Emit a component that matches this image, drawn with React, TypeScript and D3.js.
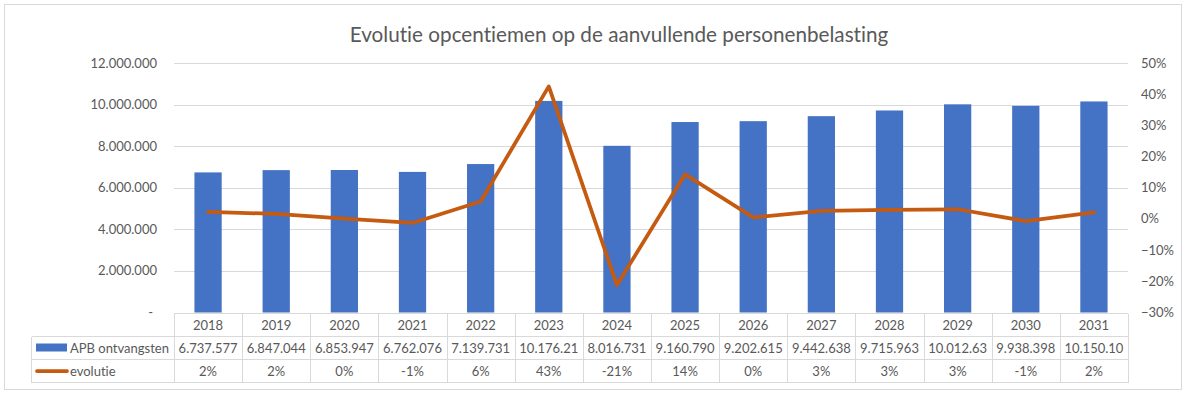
import React, { Component } from 'react'
import * as d3 from 'd3'

const years = ['2018', '2019', '2020', '2021', '2022', '2023', '2024', '2025', '2026', '2027', '2028', '2029', '2030', '2031']
const apbOntvangsten = [6737577, 6847044, 6853947, 6762076, 7139731, 10176210, 8016731, 9160790, 9202615, 9442638, 9715963, 10012630, 9938398, 10150100]
const apbLabels = ['6.737.577', '6.847.044', '6.853.947', '6.762.076', '7.139.731', '10.176.21', '8.016.731', '9.160.790', '9.202.615', '9.442.638', '9.715.963', '10.012.63', '9.938.398', '10.150.10']
const evolutie = [0.023, 0.016, 0.001, -0.013, 0.056, 0.425, -0.212, 0.143, 0.005, 0.026, 0.029, 0.031, -0.007, 0.021]
const evolutieLabels = ['2%', '2%', '0%', '-1%', '6%', '43%', '-21%', '14%', '0%', '3%', '3%', '3%', '-1%', '2%']
const leftTicks = [0, 2000000, 4000000, 6000000, 8000000, 10000000, 12000000]
const rightTicks = [-0.3, -0.2, -0.1, 0, 0.1, 0.2, 0.3, 0.4, 0.5]

const title = 'Evolutie opcentiemen op de aanvullende personenbelasting'
const seriesNames = ['APB ontvangsten', 'evolutie']

export default class App extends Component {
  node: SVGSVGElement | null = null

  componentDidMount() {
    this.drawChart()
  }
  componentDidUpdate() {
    this.drawChart()
  }

  drawChart() {
    const width = 1187, height = 395
    const left = 174, right = 1128, top = 63, bottom = 312.5
    const rowH = 23
    const font = 'Lato, "Open Sans", sans-serif'
    const textColor = '#595959'
    const gridColor = '#D9D9D9'
    const barColor = '#4472C4'
    const lineColor = '#C55A11'

    const svg = d3.select(this.node)
    svg.selectAll('*').remove()
    svg.attr('width', width).attr('height', height)
      .style('font-variant-ligatures', 'none')

    svg.append('rect')
      .attr('width', width).attr('height', height).attr('fill', '#fff')
    svg.append('rect')
      .attr('x', 4.5).attr('y', 4.5).attr('width', 1177).attr('height', 385)
      .attr('fill', 'none').attr('stroke', gridColor)

    // title
    svg.append('text')
      .attr('x', 619).attr('y', 42)
      .attr('text-anchor', 'middle')
      .attr('font-family', font).attr('font-size', 20.7)
      .attr('fill', textColor)
      .text(title)

    const cell = d3.scaleBand().domain(years).range([left, right])
    const yLeft = d3.scaleLinear().domain([0, 12000000]).range([bottom, top])
    const yRight = d3.scaleLinear().domain([-0.3, 0.5]).range([bottom, top])

    const nl = d3.formatLocale({ decimal: ',', thousands: '.', grouping: [3], currency: ['€', ''] })
    const fmtLeft = (d: number) => d === 0 ? '-' : nl.format(',')(d)
    const fmtRight = nl.format('.0%')

    // gridlines
    svg.append('g')
      .selectAll('line')
      .data(leftTicks.filter(d => d > 0))
      .enter().append('line')
      .attr('x1', left).attr('x2', right)
      .attr('y1', d => Math.round(yLeft(d)) + 0.5).attr('y2', d => Math.round(yLeft(d)) + 0.5)
      .attr('stroke', gridColor)

    // left axis labels
    svg.append('g')
      .selectAll('text')
      .data(leftTicks)
      .enter().append('text')
      .attr('x', d => d === 0 ? 153 : 157)
      .attr('y', d => yLeft(d))
      .attr('dy', '0.35em')
      .attr('text-anchor', 'end')
      .attr('font-family', font).attr('font-size', 13)
      .attr('fill', textColor)
      .text(fmtLeft)

    // right axis labels
    svg.append('g')
      .selectAll('text')
      .data(rightTicks)
      .enter().append('text')
      .attr('x', 1141)
      .attr('y', d => yRight(d))
      .attr('dy', '0.35em')
      .attr('font-family', font).attr('font-size', 13)
      .attr('fill', textColor)
      .text(fmtRight)

    // bars
    const bw = cell.bandwidth() * 0.4
    svg.append('g')
      .selectAll('rect')
      .data(apbOntvangsten)
      .enter().append('rect')
      .attr('x', (d, i) => cell(years[i])! + (cell.bandwidth() - bw) / 2)
      .attr('y', d => yLeft(d))
      .attr('width', bw)
      .attr('height', d => bottom - yLeft(d))
      .attr('fill', barColor)

    // line
    const line = d3.line<number>()
      .x((d, i) => cell(years[i])! + cell.bandwidth() / 2)
      .y(d => yRight(d))
    svg.append('path')
      .datum(evolutie)
      .attr('d', line)
      .attr('fill', 'none')
      .attr('stroke', lineColor)
      .attr('stroke-width', 3.75)
      .attr('stroke-linejoin', 'round')
      .attr('stroke-linecap', 'round')

    // data table
    const table = svg.append('g').attr('stroke', gridColor).attr('shape-rendering', 'crispEdges')
    const legendLeft = 31.5
    const y0 = Math.round(bottom) + 0.5
    table.append('line').attr('x1', left).attr('x2', right).attr('y1', y0).attr('y2', y0)
    for (let r = 1; r <= 3; r++) {
      table.append('line').attr('x1', legendLeft).attr('x2', right)
        .attr('y1', y0 + r * rowH).attr('y2', y0 + r * rowH)
    }
    table.append('line').attr('x1', legendLeft).attr('x2', legendLeft)
      .attr('y1', y0 + rowH).attr('y2', y0 + 3 * rowH)
    const bounds = years.map(y => cell(y)!).concat([right])
    table.selectAll('line.v')
      .data(bounds)
      .enter().append('line')
      .attr('x1', d => Math.round(d) + 0.5).attr('x2', d => Math.round(d) + 0.5)
      .attr('y1', y0).attr('y2', y0 + 3 * rowH)

    const rows = [years, apbLabels, evolutieLabels]
    rows.forEach((labels, r) => {
      svg.append('g')
        .selectAll('text')
        .data(labels)
        .enter().append('text')
        .attr('x', (d, i) => cell(years[i])! + cell.bandwidth() / 2)
        .attr('y', y0 + r * rowH + rowH / 2)
        .attr('dy', '0.35em')
        .attr('text-anchor', 'middle')
        .attr('font-family', font).attr('font-size', 13)
        .attr('fill', textColor)
        .text(d => d)
    })

    // legend keys in table
    svg.append('rect')
      .attr('x', 36).attr('y', y0 + rowH + 7).attr('width', 31).attr('height', 8)
      .attr('fill', barColor)
    svg.append('line')
      .attr('x1', 37).attr('x2', 67)
      .attr('y1', y0 + 2 * rowH + 11.5).attr('y2', y0 + 2 * rowH + 11.5)
      .attr('stroke', lineColor).attr('stroke-width', 3.75).attr('stroke-linecap', 'round')
    svg.append('g')
      .selectAll('text')
      .data(seriesNames)
      .enter().append('text')
      .attr('x', 70)
      .attr('y', (d, i) => y0 + (i + 1) * rowH + rowH / 2)
      .attr('dy', '0.35em')
      .attr('font-family', font).attr('font-size', 13)
      .attr('fill', textColor)
      .text(d => d)
  }

  render() {
    return <svg ref={node => { this.node = node }} style={{ position: 'absolute', left: 0, top: 0 }}></svg>
  }
}
